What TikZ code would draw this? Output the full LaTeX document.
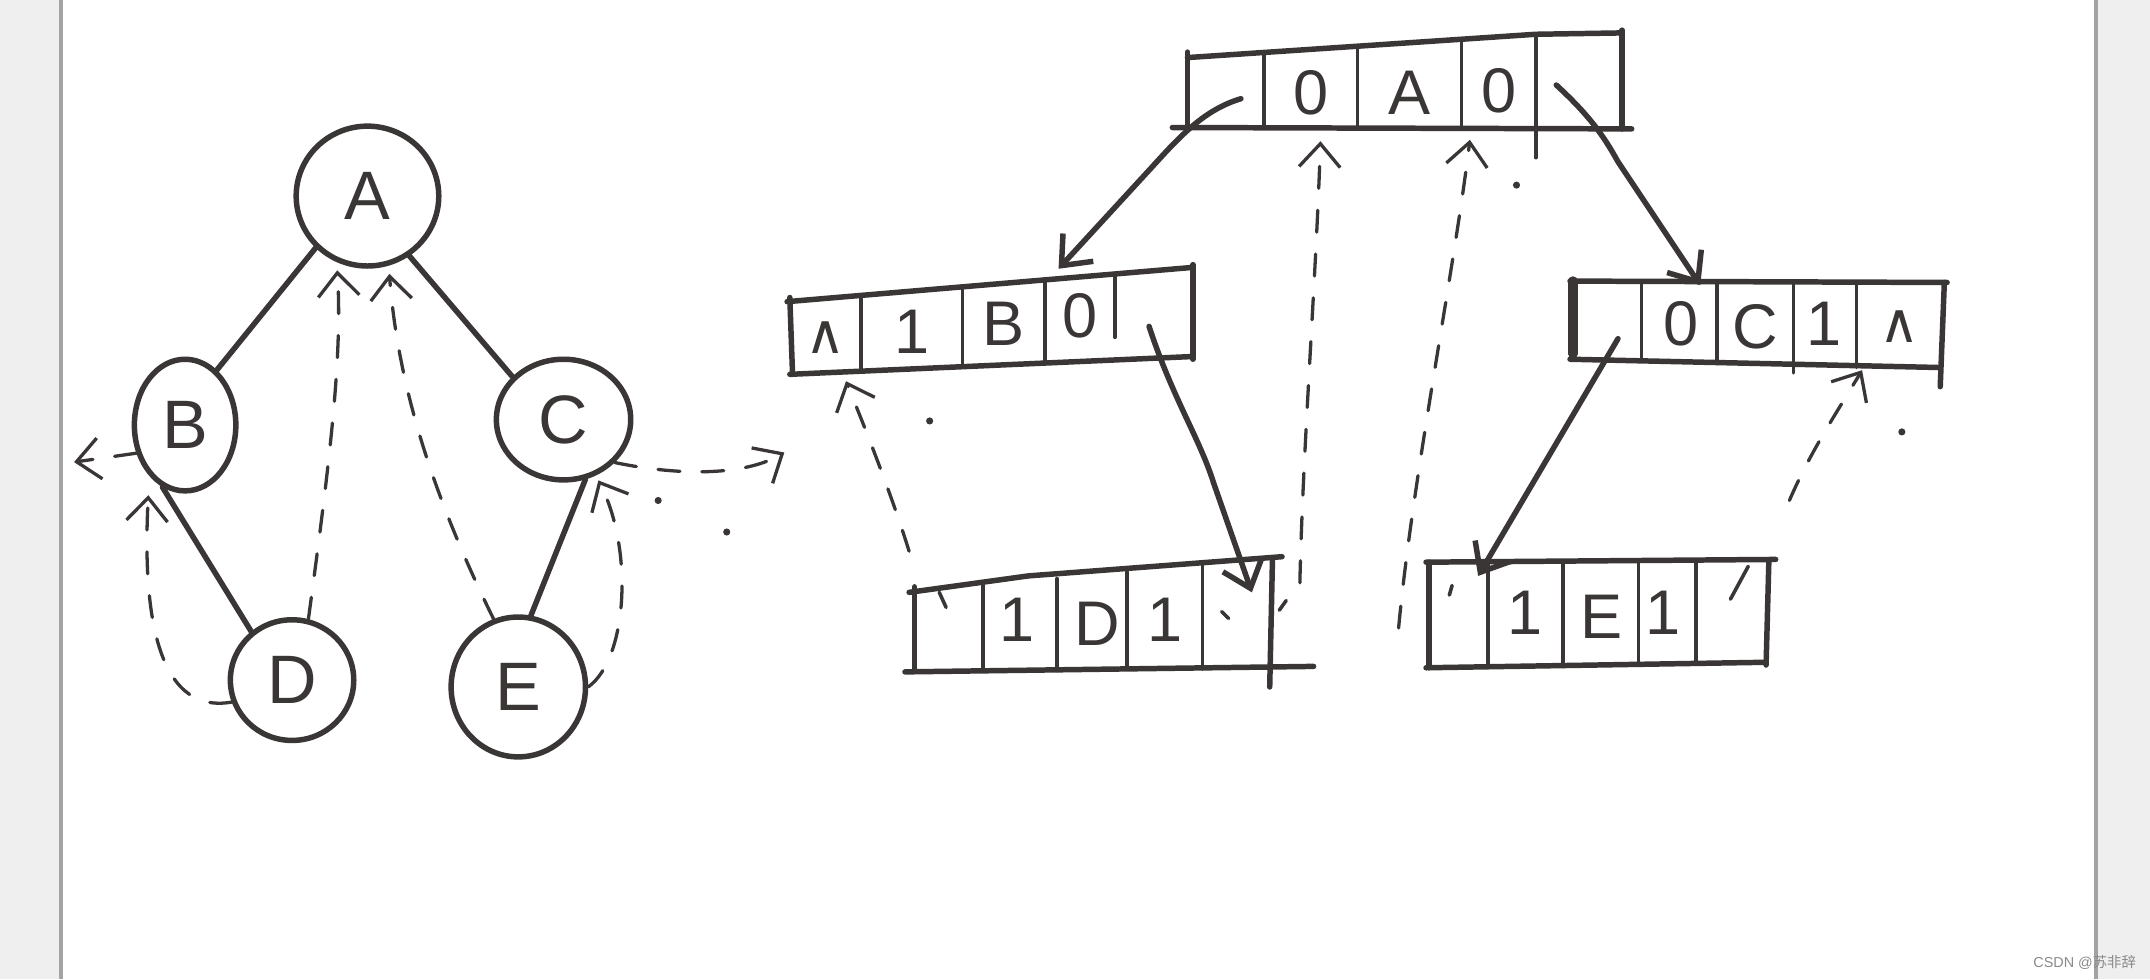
\documentclass[tikz,border=0pt]{standalone}
\usepackage{fontspec}
\setmainfont{Liberation Sans}
\newfontfamily\djv{DejaVu Sans}
\newfontfamily\cjk{Noto Sans CJK SC}
\usetikzlibrary{shapes.geometric,arrows.meta}
\definecolor{ink}{HTML}{3A3636}
\definecolor{pagegray}{HTML}{EFEFEF}
\definecolor{edgegray}{HTML}{A3A3A3}
\definecolor{marktext}{HTML}{8A8A8A}
\begin{document}
\begin{tikzpicture}[x=1pt,y=-1pt,
  solidline/.style={draw=ink, line width=4pt, line cap=round, line join=round},
  boxline/.style={draw=ink, line width=4pt, line cap=round, line join=round},
  thinline/.style={draw=ink, line width=2.6pt, line cap=round},
  thread/.style={draw=ink, line width=2.4pt, line cap=round, dash pattern=on 16pt off 16pt},
  treenode/.style={draw=ink, line width=4pt, ellipse, inner sep=0pt, font=\fontsize{50}{50}\selectfont, text=ink},
  celltext/.style={font=\fontsize{46}{46}\selectfont, text=ink, inner sep=0pt},
  headsolid/.style={-{Straight Barb[length=18pt,width=30pt]}},
  headthread/.style={-{Straight Barb[length=17pt,width=30pt]}},
  speck/.style={fill=ink}
]
\useasboundingbox (0,0) rectangle (1568,714);
% page background
\fill[pagegray] (0,0) rectangle (1568,714);
\fill[white] (45,0) rectangle (1527,714);
\draw[edgegray, line width=3pt] (44.5,0) -- (44.5,714);
\draw[edgegray, line width=3pt] (1528.5,0) -- (1528.5,714);

% ---------------- tree ----------------
\node[treenode, minimum width=104pt, minimum height=102pt] (A) at (268,143) {A};
\node[treenode, minimum width=74pt, minimum height=96pt] (B) at (135,310) {B};
\node[treenode, minimum width=98pt, minimum height=88pt] (C) at (411,306) {C};
\node[treenode, minimum width=90pt, minimum height=88pt] (D) at (213,496) {D};
\node[treenode, minimum width=98pt, minimum height=102pt] (E) at (378,501) {E};

\draw[solidline] (A.225) -- (B.60);
\draw[solidline] (A.305) -- (C.140);
\draw[solidline] (B.250) -- (D.130);
\draw[solidline] (C.290) -- (E.80);

\coordinate (bnull) at (54,337);
\coordinate (cnull) at (572,330);
\draw[thread, headthread, shorten >=6pt] (D.75) .. controls (240,340) and (250,260) .. (A.245);
\draw[thread, headthread, shorten >=6pt] (E.110) .. controls (315,360) and (290,280) .. (A.287);
\draw[thread, headthread, shorten >=14pt] (D.200) .. controls (112,522) and (104,440) .. (B.235);
\draw[thread, headthread, shorten >=4pt] (E.0) .. controls (458,480) and (462,400) .. (C.300);
\draw[thread, headthread] (B.210) -- (bnull);
\draw[thread, headthread] (C.320) .. controls (500,348) and (545,346) .. (cnull);
\fill[speck] (480,365) circle (2.6pt);
\fill[speck] (530,388) circle (2.6pt);

% ---------------- node A record ----------------
\draw[boxline] (866,42) -- (1120,25) -- (1183,24);
\draw[boxline] (855,93) -- (1190,94);
\draw[boxline] (866,38) -- (866,92);
\draw[boxline] (1183,22) -- (1183,94);
\draw[thinline] (922,38) -- (922,93);
\draw[thinline] (990,34) -- (990,93);
\draw[thinline] (1066,29) -- (1066,93);
\draw[thinline] (1120,25) -- (1120,115);
\node[celltext] (a0) at (956,68) {0};
\node[celltext] (aA) at (1028,68) {A};
\node[celltext] (a1) at (1093,66) {0};

% ---------------- node B record ----------------
\draw[boxline] (574,220) -- (870,195);
\draw[boxline] (576,273) -- (870,260);
\draw[boxline] (576,217) -- (578,273);
\draw[boxline] (870,193) -- (870,262);
\draw[thinline] (628,215) -- (628,271);
\draw[thinline] (702,209) -- (702,267);
\draw[thinline] (762,204) -- (762,265);
\draw[thinline] (813,200) -- (813,246);
\node[celltext, font=\djv\fontsize{40}{40}\selectfont] (bl) at (602,246) {∧};
\node[celltext] (b0) at (665,242) {1};
\node[celltext] (bB) at (732,236) {B};
\node[celltext] (b1) at (788,230) {0};

% ---------------- node C record ----------------
\draw[boxline] (1145,205) -- (1420,206);
\draw[boxline] (1145,262) -- (1413,268);
\draw[draw=ink, line width=7pt, line cap=round] (1147,205) -- (1147,258);
\draw[boxline] (1418,206) -- (1415,282);
\draw[thinline] (1197,206) -- (1197,263);
\draw[thinline] (1252,206) -- (1252,265);
\draw[thinline] (1308,206) -- (1308,272);
\draw[thinline] (1354,206) -- (1354,268);
\node[celltext] (c0) at (1226,236) {0};
\node[celltext] (cC) at (1280,238) {C};
\node[celltext] (c1) at (1330,236) {1};
\node[celltext, font=\djv\fontsize{40}{40}\selectfont] (cr) at (1385,238) {∧};

% ---------------- node D record ----------------
\draw[boxline] (663,432) -- (750,420) -- (935,406);
\draw[boxline] (660,490) -- (958,486);
\draw[boxline] (667,428) -- (667,488);
\draw[boxline] (928,408) -- (926,501);
\draw[thinline] (717,427) -- (717,489);
\draw[thinline] (771,422) -- (771,489);
\draw[thinline] (822,417) -- (822,488);
\draw[thinline] (877,412) -- (877,488);
\node[celltext] (d0) at (742,452) {1};
\node[celltext] (dD) at (800,455) {D};
\node[celltext] (d1) at (850,452) {1};
\draw[thinline] (685,432) -- (690,443);
\draw[thinline] (891,446) -- (896,451);
\draw[thinline] (938,438) -- (933,445);

% ---------------- node E record ----------------
\draw[boxline] (1040,410) -- (1295,408);
\draw[boxline] (1040,487) -- (1288,483);
\draw[boxline] (1042,410) -- (1042,487);
\draw[boxline] (1290,410) -- (1288,485);
\draw[thinline] (1085,410) -- (1085,486);
\draw[thinline] (1140,410) -- (1140,486);
\draw[thinline] (1195,409) -- (1195,485);
\draw[thinline] (1237,409) -- (1237,484);
\node[celltext] (e0) at (1112,447) {1};
\node[celltext] (eE) at (1168,450) {E};
\node[celltext] (e1) at (1213,447) {1};
\draw[thinline] (1059,427) -- (1057,434);
\draw[thinline] (1275,413) -- (1262,437);

% ---------------- pointers ----------------
\coordinate (aLs) at (905,72);
\coordinate (aRs) at (1135,62);
\coordinate (bIn) at (772,196);
\coordinate (cIn) at (1240,208);
\coordinate (bRs) at (838,238);
\coordinate (dIn) at (913,432);
\coordinate (cLs) at (1180,247);
\coordinate (eIn) at (1078,420);
\draw[solidline, headsolid] (aLs) .. controls (878,80) and (860,100) .. (840,122) -- (bIn);
\draw[solidline, headsolid] (aRs) .. controls (1160,85) and (1170,100) .. (1180,118) -- (cIn);
\draw[solidline, headsolid] (bRs) .. controls (855,290) and (875,320) .. (885,352) -- (dIn);
\draw[solidline, headsolid] (cLs) -- (eIn);

% ---------------- threads ----------------
\coordinate (dLs) at (663,402);
\coordinate (bUnder) at (617,278);
\coordinate (dRs) at (948,425);
\coordinate (aUnder0) at (963,103);
\coordinate (eLs) at (1020,458);
\coordinate (aUnder1) at (1072,102);
\coordinate (eRs) at (1305,365);
\coordinate (cUnder) at (1358,270);
\draw[thread, headthread] (dLs) .. controls (650,360) and (630,310) .. (bUnder);
\draw[thread, headthread] (dRs) .. controls (950,330) and (960,200) .. (aUnder0);
\draw[thread, headthread] (eLs) .. controls (1030,350) and (1060,200) .. (aUnder1);
\draw[thread, headthread] (eRs) .. controls (1320,330) and (1340,300) .. (cUnder);
\fill[speck] (678,307) circle (2.6pt);
\fill[speck] (1106,135) circle (2.6pt);
\fill[speck] (1387,315) circle (2.6pt);

% watermark
\node[anchor=east, inner sep=0pt, text=marktext, font=\fontsize{10.5}{10.5}\selectfont] (wm) at (1558,702) {CSDN @{\cjk 苏非辞}};
\end{tikzpicture}
\end{document}
